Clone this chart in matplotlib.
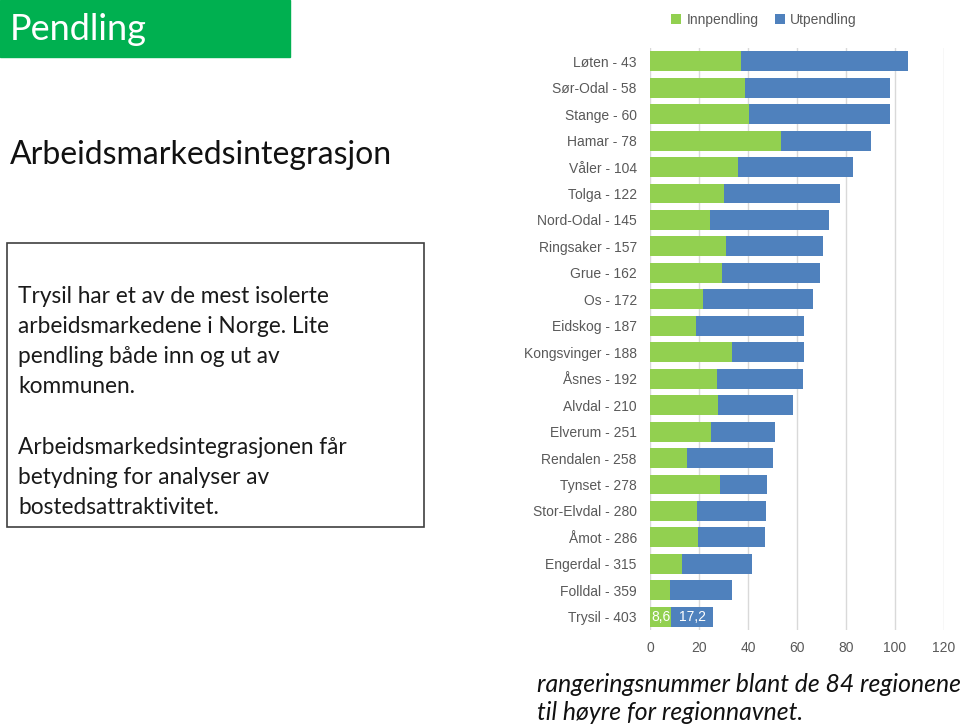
import matplotlib.pyplot as plt
from matplotlib.patches import Rectangle
import numpy as np

# kommuner (rangering blant 84 regioner), fra topp til bunn
kommuner = ["Løten - 43", "Sør-Odal - 58", "Stange - 60", "Hamar - 78", "Våler - 104",
            "Tolga - 122", "Nord-Odal - 145", "Ringsaker - 157", "Grue - 162", "Os - 172",
            "Eidskog - 187", "Kongsvinger - 188", "Åsnes - 192", "Alvdal - 210",
            "Elverum - 251", "Rendalen - 258", "Tynset - 278", "Stor-Elvdal - 280",
            "Åmot - 286", "Engerdal - 315", "Folldal - 359", "Trysil - 403"]
innpendling = [37.1, 38.6, 40.4, 53.3, 36.0, 30.2, 24.6, 30.9, 29.5, 21.6, 18.6,
               33.4, 27.3, 27.7, 25.1, 15.1, 28.5, 19.3, 19.7, 13.2, 8.0, 8.6]
utpendling = [68.2, 59.4, 57.6, 36.9, 46.9, 47.3, 48.3, 39.9, 39.9, 45.1, 44.3,
              29.5, 35.1, 30.6, 26.0, 35.3, 19.2, 28.0, 27.2, 28.5, 25.3, 17.2]

GREEN = "#92D050"
BLUE = "#4F81BD"
GREY = "#595959"
SLIDE_FONT = "Lato"
plt.rcParams["font.family"] = ["Liberation Sans", "DejaVu Sans"]

fig = plt.figure(figsize=(9.6, 7.27), dpi=100)

# --- venstre side av lysbildet ---
fig.patches.append(Rectangle((0, 1 - 57 / 727), 290 / 960, 57 / 727,
                             transform=fig.transFigure, color="#00B050", zorder=0))
fig.text(10 / 960, 1 - 29 / 727, "Pendling", color="white", fontsize=26,
         family=SLIDE_FONT, va="center", ha="left")
fig.text(10 / 960, 1 - 155 / 727, "Arbeidsmarkedsintegrasjon", color="#111111",
         fontsize=23, family=SLIDE_FONT, va="center", ha="left")

fig.patches.append(Rectangle((7 / 960, 1 - 527 / 727), 417 / 960, 284 / 727,
                             transform=fig.transFigure, fill=False,
                             edgecolor="#404040", lw=1.2))
boks = ["Trysil har et av de mest isolerte",
        "arbeidsmarkedene i Norge. Lite",
        "pendling både inn og ut av",
        "kommunen.",
        "",
        "Arbeidsmarkedsintegrasjonen får",
        "betydning for analyser av",
        "bostedsattraktivitet."]
for i, linje in enumerate(boks):
    fig.text(18 / 960, 1 - (296 + 30.2 * i) / 727, linje, color="#1a1a1a",
             fontsize=16.3, family=SLIDE_FONT, va="center", ha="left")

fig.text(537 / 960, 1 - 685 / 727, "rangeringsnummer blant de 84 regionene",
         fontsize=17.8, family=SLIDE_FONT, style="italic", color="#111111",
         va="center", ha="left")
fig.text(537 / 960, 1 - 713 / 727, "til høyre for regionnavnet.",
         fontsize=17.8, family=SLIDE_FONT, style="italic", color="#111111",
         va="center", ha="left")

# --- diagrammet ---
ax = fig.add_axes([650 / 960, 1 - 630 / 727, 294 / 960, 582 / 727])
y = np.arange(len(kommuner))
b1 = ax.barh(y, innpendling, height=0.75, color=GREEN, label="Innpendling", zorder=3)
b2 = ax.barh(y, utpendling, left=innpendling, height=0.75, color=BLUE,
             label="Utpendling", zorder=3)

# dataetiketter for Trysil
t = len(kommuner) - 1
ax.text(innpendling[t] / 2, t, f"{innpendling[t]:.1f}".replace(".", ","),
        color="white", ha="center", va="center", fontsize=10, zorder=4)
ax.text(innpendling[t] + utpendling[t] / 2, t, f"{utpendling[t]:.1f}".replace(".", ","),
        color="white", ha="center", va="center", fontsize=10, zorder=4)

ax.set_xlim(0, 120)
ax.set_ylim(len(kommuner) - 0.5, -0.5)
ax.set_xticks(np.arange(0, 121, 20))
ax.set_yticks(y)
ax.set_yticklabels(kommuner)
ax.tick_params(length=0, labelsize=10, colors=GREY)
ax.tick_params(axis="y", pad=9.5)
ax.tick_params(axis="x", pad=8)
ax.grid(axis="x", color="#D9D9D9", lw=1, zorder=0)
for s in ax.spines.values():
    s.set_visible(False)

fig.legend(handles=[b1, b2], loc="center", bbox_to_anchor=(764 / 960, 1 - 20 / 727),
           ncol=2, frameon=False, fontsize=10, labelcolor=GREY,
           handlelength=0.7, handleheight=0.7, handletextpad=0.4, columnspacing=1.2)

fig.savefig("out.png", dpi=100)
